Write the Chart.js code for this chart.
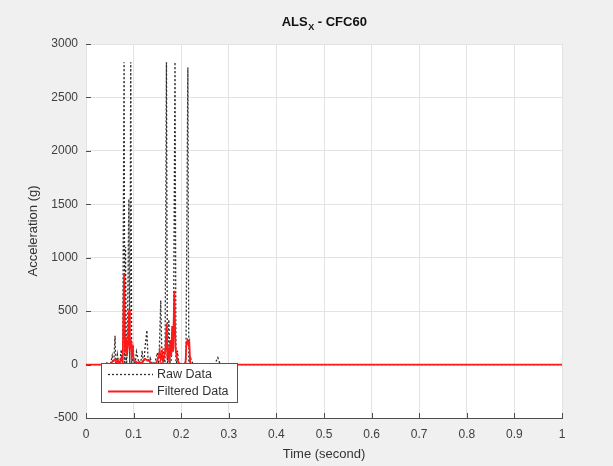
<!DOCTYPE html>
<html>
<head>
<meta charset="utf-8">
<script src="https://cdn.jsdelivr.net/npm/chart.js@4/dist/chart.umd.min.js"></script>
<style>
  html, body { margin: 0; padding: 0; background: #f0f0f0; }
</style>
</head>
<body>
<canvas id="chart" width="613" height="466"></canvas>
<script>
// raw signal (black dotted)
const rawTime = [0, 0.04, 0.045, 0.05, 0.055, 0.058, 0.061, 0.063, 0.066, 0.07, 0.074, 0.077,
  0.080, 0.0815, 0.083, 0.085, 0.087, 0.090, 0.092, 0.094, 0.096, 0.099, 0.102, 0.106, 0.11,
  0.114, 0.118, 0.121, 0.124, 0.128, 0.131, 0.135, 0.14, 0.146, 0.15, 0.153, 0.157, 0.16,
  0.163, 0.166, 0.169, 0.171, 0.174, 0.177, 0.18, 0.184, 0.187, 0.189, 0.192, 0.196, 0.2,
  0.205, 0.21, 0.214, 0.216, 0.22, 0.225, 0.24, 0.27, 0.277, 0.282, 0.3, 1];
const rawAcc = [0, 0, 20, -30, 80, -20, 270, -60, 90, -40, 140, -80,
  2830, -150, 1100, -90, 300, 1550, -120, 2830, -60, 180, -40, 120, 40,
  -30, 130, -20, 160, 320, -40, 60, 0, 40, 110, -30, 600, -50,
  150, -40, 2830, -90, 420, -60, 120, 300, 2830, -80, 130, -30, 0,
  -20, 40, 2780, -40, 60, 0, 0, 0, 65, 0, 0, 0];

// CFC60 filtered signal (red)
const filtTime = [0, 0.04, 0.045, 0.05, 0.055, 0.058, 0.061, 0.064, 0.067, 0.07, 0.074, 0.077,
  0.080, 0.082, 0.084, 0.086, 0.088, 0.0905, 0.092, 0.094, 0.096, 0.098, 0.1, 0.104, 0.108,
  0.112, 0.116, 0.12, 0.124, 0.128, 0.132, 0.136, 0.145, 0.15, 0.153, 0.155, 0.157, 0.16,
  0.162, 0.165, 0.167, 0.1695, 0.171, 0.173, 0.175, 0.177, 0.179, 0.181, 0.183, 0.1855,
  0.188, 0.191, 0.195, 0.2, 0.209, 0.211, 0.213, 0.215, 0.217, 0.219, 0.225, 0.3, 1];
const filtAcc = [0, 0, 10, 0, 25, 35, 50, 20, 40, 10, 60, 15,
  850, 120, 260, 80, 180, 515, 150, 240, 90, 150, 40, 30, 15,
  25, 10, 35, 55, 40, 45, 10, 0, 40, 80, 130, 50, 110,
  30, 90, 150, 385, 60, 120, 20, 230, 80, 360, 120, 690,
  160, 60, 15, 0, 0, 200, 225, 190, 215, 0, 0, 0, 0];

const xTicks = [0, 0.1, 0.2, 0.3, 0.4, 0.5, 0.6, 0.7, 0.8, 0.9, 1];
const yTicks = [-500, 0, 500, 1000, 1500, 2000, 2500, 3000];

const FONT = 'Liberation Sans, Arial, Helvetica, sans-serif';

function toPoints(xs, ys) {
  return xs.map((x, i) => ({ x: x, y: ys[i] }));
}

// gray figure, white axes
const backdrop = {
  id: 'backdrop',
  beforeDraw(chart) {
    const { ctx, chartArea: a } = chart;
    ctx.save();
    ctx.fillStyle = '#f0f0f0';
    ctx.fillRect(0, 0, chart.width, chart.height);
    ctx.fillStyle = '#ffffff';
    ctx.fillRect(a.left, a.top, a.right - a.left, a.bottom - a.top);
    ctx.restore();
  }
};

// matlab style: inward ticks, legend box inside the axes, title with subscript
const decorations = {
  id: 'decorations',
  afterDatasetsDraw(chart) {
    const { ctx, chartArea: a, scales } = chart;
    ctx.save();

    // inward tick marks
    ctx.strokeStyle = '#4d4d4d';
    ctx.lineWidth = 1;
    ctx.beginPath();
    xTicks.forEach(v => {
      const px = Math.round(scales.x.getPixelForValue(v)) + 0.5;
      ctx.moveTo(px, a.bottom);
      ctx.lineTo(px, a.bottom - 5);
    });
    yTicks.forEach(v => {
      const py = Math.round(scales.y.getPixelForValue(v)) + 0.5;
      ctx.moveTo(a.left, py);
      ctx.lineTo(a.left + 5, py);
    });
    ctx.stroke();

    // legend
    const bx = 101.5, by = 363.5, bw = 136, bh = 39;
    ctx.fillStyle = '#ffffff';
    ctx.fillRect(bx, by, bw, bh);
    ctx.strokeStyle = '#555555';
    ctx.strokeRect(bx, by, bw, bh);

    const ds = chart.data.datasets;
    const rows = [{ d: ds[1], y: 374.5 }, { d: ds[0], y: 391.5 }];
    rows.forEach(r => {
      ctx.beginPath();
      ctx.strokeStyle = r.d.borderColor;
      ctx.lineWidth = r.d.borderWidth;
      ctx.setLineDash(r.d.borderDash || []);
      ctx.moveTo(108, r.y);
      ctx.lineTo(153, r.y);
      ctx.stroke();
      ctx.setLineDash([]);
      ctx.fillStyle = '#333333';
      ctx.font = '12.5px ' + FONT;
      ctx.textBaseline = 'middle';
      ctx.textAlign = 'left';
      ctx.fillText(r.d.label, 157, r.y);
    });

    // title ALS_X - CFC60
    const main = 'ALS', sub = 'X', rest = ' - CFC60';
    ctx.fillStyle = '#111111';
    ctx.textBaseline = 'alphabetic';
    ctx.font = 'bold 13px ' + FONT;
    const w1 = ctx.measureText(main).width;
    const w3 = ctx.measureText(rest).width;
    ctx.font = 'bold 9px ' + FONT;
    const w2 = ctx.measureText(sub).width;
    const cx = (a.left + a.right) / 2;
    let tx = cx - (w1 + w2 + w3) / 2;
    const base = 26;
    ctx.font = 'bold 13px ' + FONT;
    ctx.fillText(main, tx, base);
    tx += w1;
    ctx.font = 'bold 9px ' + FONT;
    ctx.fillText(sub, tx + 0.5, base + 4);
    tx += w2 + 0.5;
    ctx.font = 'bold 13px ' + FONT;
    ctx.fillText(rest, tx, base);

    ctx.restore();
  }
};

const chart = new Chart(document.getElementById('chart'), {
  type: 'scatter',
  data: {
    datasets: [
      {
        label: 'Filtered Data',
        data: toPoints(filtTime, filtAcc),
        showLine: true,
        borderColor: '#ff1a1a',
        borderWidth: 1.8,
        pointRadius: 0,
        tension: 0,
        order: 0
      },
      {
        label: 'Raw Data',
        data: toPoints(rawTime, rawAcc),
        showLine: true,
        borderColor: '#2e2e2e',
        borderWidth: 1.3,
        borderDash: [2, 2],
        pointRadius: 0,
        tension: 0,
        order: 1
      }
    ]
  },
  options: {
    responsive: false,
    devicePixelRatio: 1,
    animation: false,
    layout: { padding: { left: 0, right: 51, top: 44, bottom: 0 } },
    plugins: {
      legend: { display: false },
      tooltip: { enabled: false },
      title: { display: false }
    },
    scales: {
      x: {
        type: 'linear',
        min: 0,
        max: 1,
        afterBuildTicks: s => { s.ticks = xTicks.map(v => ({ value: v })); },
        afterFit: s => { s.height = 48; },
        ticks: {
          padding: 9,
          color: '#404040',
          font: { family: FONT, size: 12 },
          maxRotation: 0,
          callback: v => String(v)
        },
        grid: { color: '#e3e3e3', drawTicks: false },
        border: { display: true, color: '#4d4d4d', width: 1 },
        title: {
          display: true,
          text: 'Time (second)',
          color: '#333333',
          font: { family: FONT, size: 13 },
          padding: 4
        }
      },
      y: {
        type: 'linear',
        min: -500,
        max: 3000,
        afterBuildTicks: s => { s.ticks = yTicks.map(v => ({ value: v })); },
        afterFit: s => { s.width = 86; },
        ticks: {
          padding: 8,
          color: '#404040',
          font: { family: FONT, size: 12 },
          callback: v => String(v)
        },
        grid: { color: '#e3e3e3', drawTicks: false },
        border: { display: false },
        title: {
          display: true,
          text: 'Acceleration (g)',
          color: '#333333',
          font: { family: FONT, size: 13 },
          padding: 26
        }
      }
    }
  },
  plugins: [backdrop, decorations]
});
</script>
</body>
</html>
